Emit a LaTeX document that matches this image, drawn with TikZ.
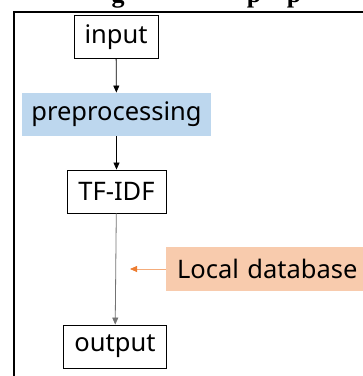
\documentclass[tikz,border=0pt]{standalone}
\usepackage{fontspec}
\setmainfont{Noto Sans}
\newfontfamily\titlefont{Liberation Serif}
\usetikzlibrary{arrows.meta}

\definecolor{prepblue}{HTML}{BDD7EE}
\definecolor{dbfill}{HTML}{F8CBAD}
\definecolor{dborange}{HTML}{ED7D31}

\tikzset{
    stage/.style={draw, line width=0.9pt, inner sep=0pt, minimum height=43pt, font=\fontsize{25.5}{30}\selectfont},
    flow/.style={line width=0.8pt, -{Triangle[length=7pt,width=6pt]}},
}

\begin{document}
\begin{tikzpicture}[x=1pt, y=-1pt]
    \useasboundingbox (0,0) rectangle (363,376);
    \clip (0,0) rectangle (363,376);

    % cut-off title letters above the frame
    \foreach \xpos/\letter in {118/g, 254/p, 294/p} {
        \node[anchor=base, inner sep=0pt, font=\titlefont\bfseries\fontsize{26}{30}\selectfont] at (\xpos,2) {\letter};
    }

    % outer frame
    \draw[line width=2pt] (14,390) -- (14,12) -- (380,12);

    % stages
    \node[stage, minimum width=84pt] (input) at (116,37) {input};
    \node[stage, draw=none, fill=prepblue, minimum width=189pt] (prep) at (116.5,114.5) {preprocessing};
    \node[stage, minimum width=99pt] (tfidf) at (116.5,191.5) {TF-IDF};
    \node[stage, minimum width=103pt] (output) at (115,346.5) {output};

    % side input
    \node[inner sep=0pt, fill=dbfill, minimum width=210pt, minimum height=44pt, text width=188pt, align=left, font=\fontsize{25.5}{30}\selectfont] (localdb) at (271,269) {Local database};
    \coordinate (dbtip) at (130,269);

    % connectors
    \draw[flow] (input) -- (prep);
    \draw[flow] (prep) -- (tfidf);
    \draw[flow, draw=black!55] (tfidf) -- (output);
    \draw[line width=0.8pt, draw=dbfill!60!dborange, -{Triangle[length=7pt,width=6pt,color=dborange]}] (localdb) -- (dbtip);
\end{tikzpicture}
\end{document}
